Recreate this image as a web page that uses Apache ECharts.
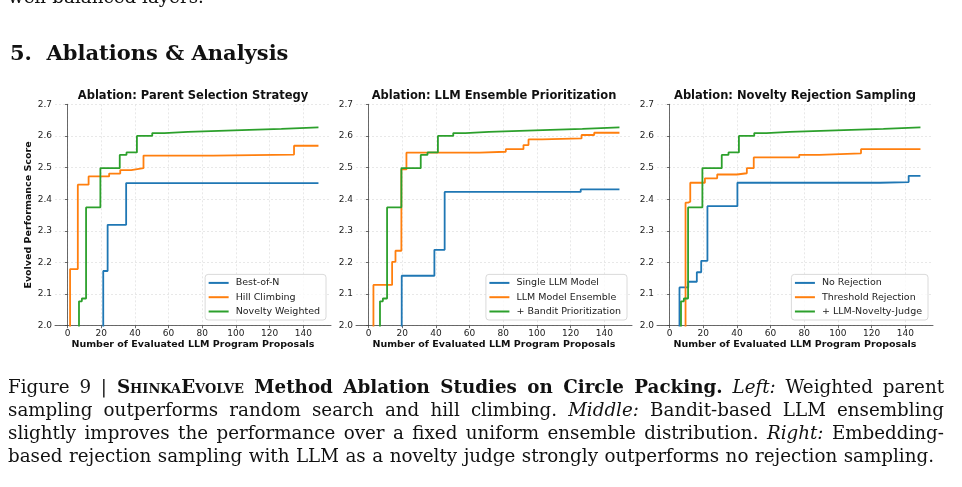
<!DOCTYPE html>
<html>
<head>
<meta charset="utf-8">
<title>Ablations &amp; Analysis</title>
<script src="https://cdn.jsdelivr.net/npm/echarts@6/dist/echarts.min.js"></script>
<style>
html, body { margin: 0; padding: 0; background: #fff; }
body { width: 962px; height: 487px; overflow: hidden; position: relative; font-family: "DejaVu Serif", serif; color: #111; }
#chart { position: absolute; left: 0; top: 0; width: 962px; height: 487px; }
.prev { position: absolute; left: 8px; top: -14px; font-size: 18.3px; white-space: nowrap; }
h2 { position: absolute; left: 10px; top: 40px; margin: 0; font-size: 21px; line-height: 26px; font-weight: bold; white-space: nowrap; }
.cap { position: absolute; left: 8px; top: 375px; width: 936px; font-size: 18.3px; line-height: 23px; }
.cap div { text-align: justify; text-align-last: justify; white-space: nowrap; }
.cap .last { width: 926px; }
.sc { font-variant: small-caps; }
</style>
</head>
<body>
<div id="chart"></div>
<div class="prev">well-balanced layers.</div>
<h2>5.&nbsp;&nbsp;Ablations &amp; Analysis</h2>
<div class="cap">
  <div>Figure 9 | <b><span class="sc">ShinkaEvolve</span> Method Ablation Studies on Circle Packing.</b> <i>Left:</i> Weighted parent</div>
  <div>sampling outperforms random search and hill climbing. <i>Middle:</i> Bandit-based LLM ensembling</div>
  <div>slightly improves the performance over a fixed uniform ensemble distribution. <i>Right:</i> Embedding-</div>
  <div class="last">based rejection sampling with LLM as a novelty judge strongly outperforms no rejection sampling.</div>
</div>
<script>
/*---- data: best score so far, [proposal, score] at each change ----*/
var xTicks = [0, 20, 40, 60, 80, 100, 120, 140];
var xFirst = 0, xLast = 149;

// default config run (green line, same in all three panels)
var shinkaDefault = [[0, 1.8], [6.8, 2.077], [8.5, 2.086], [11, 2.374], [19.5, 2.498], [31, 2.540], [35, 2.548],
    [41.2, 2.600], [50.3, 2.609], [57.5, 2.613], [71.5, 2.619], [108, 2.622], [127, 2.627], [149, 2.628]];

var bestOfN = [[0, 1.8], [21.2, 2.173], [23.8, 2.319], [34.8, 2.451], [149, 2.451]];
var hillClimbing = [[0, 1.8], [1.5, 2.179], [6.1, 2.446], [12.5, 2.472], [24.7, 2.481], [31.3, 2.492], [37.8, 2.498],
    [45.1, 2.538], [86.5, 2.541], [134.5, 2.569], [149, 2.569]];

var singleLLM = [[0, 1.8], [19.7, 2.158], [39.1, 2.240], [45.2, 2.423], [126, 2.431], [149, 2.431]];
var llmEnsemble = [[0, 1.8], [2.9, 2.129], [14, 2.202], [16, 2.237], [19.5, 2.494], [22.5, 2.547], [66, 2.550],
    [81.5, 2.558], [92, 2.571], [95, 2.589], [103, 2.592], [126.5, 2.603], [134, 2.610], [149, 2.610]];

var noRejection = [[0, 1.8], [5.9, 2.121], [11.1, 2.139], [16.2, 2.169], [18.8, 2.205], [22.5, 2.378], [40.3, 2.452],
    [125, 2.454], [142, 2.474], [149, 2.474]];
var thresholdRejection = [[0, 1.8], [9.5, 2.389], [11, 2.392], [12.3, 2.452], [21, 2.466], [28.3, 2.478], [40, 2.482],
    [45.9, 2.498], [50, 2.532], [77, 2.540], [89, 2.545], [113.7, 2.558], [149, 2.558]];

var panelTitles = ['Ablation: Parent Selection Strategy', 'Ablation: LLM Ensemble Prioritization', 'Ablation: Novelty Rejection Sampling'];
var panelNames = [
    ['Best-of-N', 'Hill Climbing', 'Novelty Weighted'],
    ['Single LLM Model', 'LLM Model Ensemble', '+ Bandit Prioritization'],
    ['No Rejection', 'Threshold Rejection', '+ LLM-Novelty-Judge']
];
var panelData = [
    [bestOfN, hillClimbing, shinkaDefault],
    [singleLLM, llmEnsemble, shinkaDefault],
    [noRejection, thresholdRejection, shinkaDefault]
];
var xLabel = 'Number of Evaluated LLM Program Proposals';
var yLabel = 'Evolved Performance Score';

/*---- layout ----*/
var colors = ['#1f77b4', '#ff7f0e', '#2ca02c'];
var panelLeft = [55, 356, 657];
var panelW = 276, panelTop = 104.3, panelH = 221.4;
var xPad = (xLast - xFirst) * 0.05;
var font = 'DejaVu Sans';
var gridLine = {show: true, lineStyle: {color: '#e2e2e2', type: [2, 2], width: 0.8}};
var spine = {show: true, lineStyle: {color: '#444', width: 0.8}};

var option = {
    animation: false,
    title: [], grid: [], xAxis: [], yAxis: [], legend: [], series: []
};

for (var i = 0; i < 3; i++) {
    option.title.push({
        text: panelTitles[i], left: panelLeft[i] + panelW / 2, top: 90.5, textAlign: 'center', padding: 0,
        textStyle: {fontFamily: font, fontSize: 11.5, fontWeight: 'bold', color: '#111'}
    });
    option.grid.push({left: panelLeft[i], top: panelTop, width: panelW, height: panelH});
    option.xAxis.push({
        gridIndex: i, type: 'value', min: xFirst - xPad, max: xLast + xPad,
        axisLine: spine,
        axisTick: {show: true, length: 2.5, customValues: xTicks, lineStyle: {color: '#444', width: 0.8}},
        axisLabel: {customValues: xTicks, margin: 3, fontFamily: font, fontSize: 9, color: '#222'},
        splitLine: gridLine,
        name: xLabel, nameLocation: 'middle', nameGap: 14.3,
        nameTextStyle: {fontFamily: font, fontSize: 9.5, fontWeight: 'bold', color: '#111'}
    });
    option.yAxis.push({
        gridIndex: i, type: 'value', min: 2.0, max: 2.7, interval: 0.1,
        axisLine: spine,
        axisTick: {show: true, length: 2.5, lineStyle: {color: '#444', width: 0.8}},
        axisLabel: {margin: 3, fontFamily: font, fontSize: 9, color: '#222', formatter: function (v) { return v.toFixed(1); }},
        splitLine: gridLine,
        name: i === 0 ? yLabel : '', nameLocation: 'middle', nameGap: 19.5,
        nameTextStyle: {fontFamily: font, fontSize: 9.5, fontWeight: 'bold', color: '#111'}
    });
    option.legend.push({
        orient: 'vertical', right: 962 - (panelLeft[i] + panelW - 5), bottom: 167,
        data: panelNames[i], icon: 'rect', itemWidth: 20, itemHeight: 2, itemGap: 3.3,
        padding: [3, 6, 3, 3.5], backgroundColor: 'rgba(255,255,255,0.8)',
        borderColor: '#d0d0d0', borderWidth: 0.8, borderRadius: 3,
        textStyle: {fontFamily: font, fontSize: 9.5, color: '#222', lineHeight: 11, padding: [0, 0, 0, 2]}
    });
    for (var k = 0; k < 3; k++) {
        option.series.push({
            type: 'line', name: panelNames[i][k], data: panelData[i][k],
            xAxisIndex: i, yAxisIndex: i, step: 'end', symbol: 'none', showSymbol: false,
            color: colors[k], lineStyle: {width: 1.8, color: colors[k]}, z: 2 + k,
            emphasis: {disabled: true}
        });
    }
}

var myChart = echarts.init(document.getElementById('chart'));
myChart.setOption(option);
</script>
</body>
</html>
